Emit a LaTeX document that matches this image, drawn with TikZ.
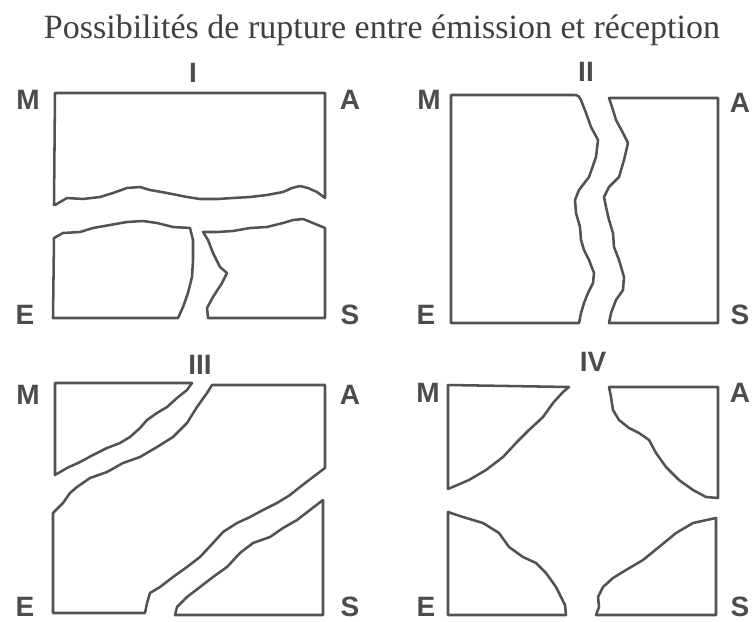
\documentclass[tikz,border=0pt]{standalone}
\usepackage{fontspec}
\newfontfamily\lblfont{Liberation Sans}
\newfontfamily\ttlfont{Liberation Serif}
\begin{document}
\begin{tikzpicture}[x=0.75pt,y=-0.75pt,
  piece/.style={draw=black!68,line width=1.9pt,line join=round,line cap=round},
  lbl/.style={font=\lblfont\bfseries\fontsize{21}{23}\selectfont,text=black!70,inner sep=0pt},
  ttl/.style={font=\ttlfont\fontsize{25.5}{29}\selectfont,text=black!75,inner sep=0pt}]
\useasboundingbox (0,0) rectangle (752,621);
\node[ttl] (title) at (382,30) {Possibilités de rupture entre émission et réception};
% ---------- Panel I ----------
\draw[piece] (54,205) -- (55,93) -- (325,93) -- (325,198) -- (317,192) -- (308,188) -- (300,186) -- (292,188) -- (283,192) -- (267,195) -- (250,197) -- (233,198) -- (217,199) -- (200,199) -- (187,197) -- (167,193) -- (150,190) -- (140,187) -- (127,188) -- (113,193) -- (100,197) -- (83,199) -- (67,198) -- (55,205);
\draw[piece] (54,238) -- (63,233) -- (80,232) -- (93,228) -- (110,225) -- (127,222) -- (143,221) -- (157,223) -- (173,227) -- (190,228) -- (193,240) -- (193,260) -- (192,277) -- (188,293) -- (183,307) -- (178,318) -- (53,318) -- cycle;
\draw[piece] (203,232) -- (217,232) -- (233,231) -- (250,228) -- (267,227) -- (283,223) -- (293,220) -- (303,219) -- (313,223) -- (325,228) -- (325,318) -- (208,318) -- (207,308) -- (213,297) -- (222,283) -- (227,273) -- (220,267) -- (213,253) -- (208,240) -- cycle;
\node[lbl] (I) at (193,73) {I};
\node[lbl] (M1) at (28,100) {M};
\node[lbl] (A1) at (350,100) {A};
\node[lbl] (E1) at (25,315) {E};
\node[lbl] (S1) at (350,315) {S};
% ---------- Panel II ----------
\draw[piece] (451,95) -- (574,95) .. controls (578,95) and (580,97) .. (581,100) -- (586,113) -- (591,127) -- (598,140) -- (596,157) -- (589,177) -- (579,190) -- (575,200) -- (576,213) -- (580,227) -- (581,240) -- (584,250) -- (589,260) -- (594,273) -- (593,283) -- (588,293) -- (584,303) -- (581,313) -- (579,323) -- (451,323) -- cycle;
\draw[piece] (609,98) -- (718,98) -- (718,323) -- (609,323) -- (611,313) -- (616,300) -- (623,290) -- (624,277) -- (619,260) -- (614,247) -- (613,233) -- (609,220) -- (606,207) -- (604,197) -- (609,187) -- (619,177) -- (624,160) -- (628,143) -- (623,133) -- (616,120) -- (613,110) -- cycle;
\node[lbl] (II) at (586,72) {II};
\node[lbl] (M2) at (429,100) {M};
\node[lbl] (A2) at (740,103) {A};
\node[lbl] (E2) at (426,315) {E};
\node[lbl] (S2) at (740,315) {S};
% ---------- Panel III ----------
\draw[piece] (55,475) -- (55,383) -- (192,383) -- (187,390) -- (177,398) -- (167,407) -- (157,413) -- (147,420) -- (140,428) -- (130,437) -- (120,443) -- (107,448) -- (93,455) -- (80,462) -- (67,468) -- (55,475);
\draw[piece] (212,385) -- (325,385) -- (325,468) -- (313,477) -- (300,487) -- (290,495) -- (277,503) -- (263,510) -- (250,517) -- (237,523) -- (223,532) -- (213,543) -- (200,557) -- (187,567) -- (173,577) -- (160,587) -- (150,593) -- (147,603) -- (145,613) -- (53,613) -- (53,513) -- (63,503) -- (70,493) -- (77,487) -- (90,478) -- (107,472) -- (123,463) -- (140,457) -- (157,447) -- (173,437) -- (187,423) -- (197,407) -- (207,393) -- cycle;
\draw[piece] (323,500) -- (323,615) -- (175,615) -- (177,607) -- (187,597) -- (200,587) -- (213,577) -- (227,567) -- (240,553) -- (253,543) -- (270,537) -- (283,528) -- (297,520) -- (310,510) -- cycle;
\node[lbl] (III) at (200,365) {III};
\node[lbl] (M3) at (28,395) {M};
\node[lbl] (A3) at (350,395) {A};
\node[lbl] (E3) at (25,607) {E};
\node[lbl] (S3) at (350,607) {S};
% ---------- Panel IV ----------
\draw[piece] (448,489) -- (448,385) -- (569,387) -- (563,392) -- (553,403) -- (543,417) -- (529,430) -- (516,443) -- (503,457) -- (486,470) -- (469,480) -- cycle;
\draw[piece] (609,387) -- (718,387) -- (718,498) -- (706,497) -- (693,490) -- (679,480) -- (666,467) -- (656,453) -- (649,440) -- (639,433) -- (629,428) -- (619,420) -- (613,410) -- (611,397) -- cycle;
\draw[piece] (448,512) -- (448,615) -- (566,615) -- (565,605) -- (561,597) -- (556,587) -- (546,573) -- (536,563) -- (523,557) -- (509,547) -- (499,533) -- (483,523) -- (463,517) -- cycle;
\draw[piece] (716,518) -- (716,615) -- (596,615) -- (599,607) -- (598,597) -- (603,587) -- (613,578) -- (626,570) -- (643,560) -- (659,547) -- (676,533) -- (693,523) -- cycle;
\node[lbl] (IV) at (593,362) {IV};
\node[lbl] (M4) at (428,393) {M};
\node[lbl] (A4) at (740,393) {A};
\node[lbl] (E4) at (426,607) {E};
\node[lbl] (S4) at (740,607) {S};
\end{tikzpicture}
\end{document}
